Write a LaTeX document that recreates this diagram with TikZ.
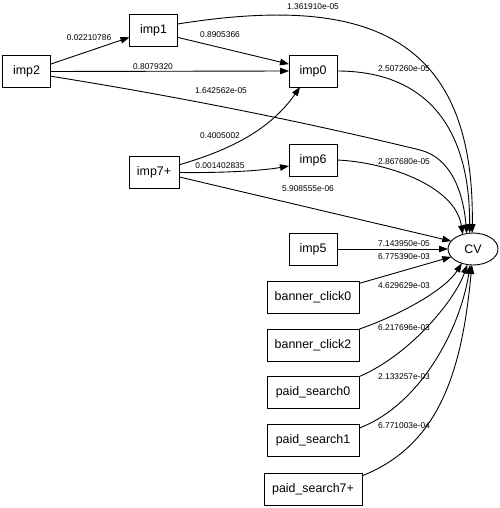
\documentclass[tikz,border=0pt]{standalone}
\usepackage{fontspec}
\setmainfont{Liberation Sans}
\usetikzlibrary{shapes.geometric,arrows.meta}
\tikzset{
  box/.style={draw, rectangle, line width=0.9pt, minimum height=32pt, inner sep=0pt, outer sep=0pt, font=\fontsize{12.4}{14}\selectfont},
  oval/.style={draw, ellipse, line width=0.9pt, minimum width=50pt, minimum height=32pt, inner sep=0pt, outer sep=0pt, font=\fontsize{12.4}{14}\selectfont},
  lab/.style={inner sep=0pt, font=\fontsize{8.4}{10}\selectfont},
  edge/.style={draw, line width=0.9pt, -{Triangle[length=9pt,width=6.5pt]}}
}
\begin{document}
\begin{tikzpicture}[x=1pt,y=-1pt]
\useasboundingbox (0,0) rectangle (499,508);
% nodes
\node[box, minimum width=48pt] (imp2) at (26.5,71.5) {imp2};
\node[box, minimum width=48pt] (imp1) at (153.5,30) {imp1};
\node[box, minimum width=48pt] (imp0) at (313,71) {imp0};
\node[box, minimum width=50pt] (imp7) at (154,172.5) {imp7+};
\node[box, minimum width=48pt] (imp6) at (313,160) {imp6};
\node[box, minimum width=48pt] (imp5) at (313,249) {imp5};
\node[oval] (cv) at (473,249) {CV};
\node[box, minimum width=92pt] (bc0) at (313,297.5) {banner\_click0};
\node[box, minimum width=92pt] (bc2) at (313,345) {banner\_click2};
\node[box, minimum width=92pt] (ps0) at (313,392.5) {paid\_search0};
\node[box, minimum width=92pt] (ps1) at (313,440.5) {paid\_search1};
\node[box, minimum width=98pt] (ps7) at (313,489) {paid\_search7+};
\coordinate (bend2) at (420,150);
% edges
\draw[edge] (imp2.17) -- (imp1.197);
\draw[edge] (imp1.343) -- (imp0.164);
\draw[edge] (imp2.east) -- (imp0.west);
\draw[edge] (imp2.349) .. controls (200,100) and (330,128) .. (bend2) .. controls (450,157.5) and (463,190) .. (cv.112);
\draw[edge] (imp1.14) .. controls (360,-5) and (475,30) .. (cv.93);
\draw[edge] (imp0.east) .. controls (420,71) and (470,120) .. (cv.102);
\draw[edge] (imp7.17) .. controls (230,150) and (270,130) .. (imp0.231);
\draw[edge] (imp7.east) .. controls (220,173) and (260,171) .. (imp6.194);
\draw[edge] (imp7.350) -- (cv.160);
\draw[edge] (imp6.east) .. controls (385,162) and (455,185) .. (cv.125);
\draw[edge] (imp5.east) -- (cv.west);
\draw[edge] (bc0.17) -- (cv.200);
\draw[edge] (bc2.19) .. controls (400,315) and (445,290) .. (cv.232);
\draw[edge] (ps0.19) .. controls (410,355) and (455,300) .. (cv.250);
\draw[edge] (ps1.15) .. controls (420,405) and (460,330) .. (cv.260);
\draw[edge] (ps7.15) .. controls (440,445) and (462,370) .. (cv.266);
% labels
\node[lab] (l1) at (89,38) {0.02210786};
\node[lab] (l2) at (220,35) {0.8905366};
\node[lab] (l3) at (153,67) {0.8079320};
\node[lab] (l4) at (221,91) {1.642562e-05};
\node[lab] (l5) at (313,7) {1.361910e-05};
\node[lab] (l6) at (404,69) {2.507260e-05};
\node[lab] (l7) at (220,136) {0.4005002};
\node[lab] (l8) at (220,166) {0.001402835};
\node[lab] (l9) at (308,189) {5.908555e-06};
\node[lab] (l10) at (404,162) {2.867680e-05};
\node[lab] (l11) at (404,244) {7.143950e-05};
\node[lab] (l12) at (404,257) {6.775390e-03};
\node[lab] (l13) at (404,286) {4.629629e-03};
\node[lab] (l14) at (404,328) {6.217696e-03};
\node[lab] (l15) at (404,377) {2.133257e-03};
\node[lab] (l16) at (404,426) {6.771003e-04};
\end{tikzpicture}
\end{document}
